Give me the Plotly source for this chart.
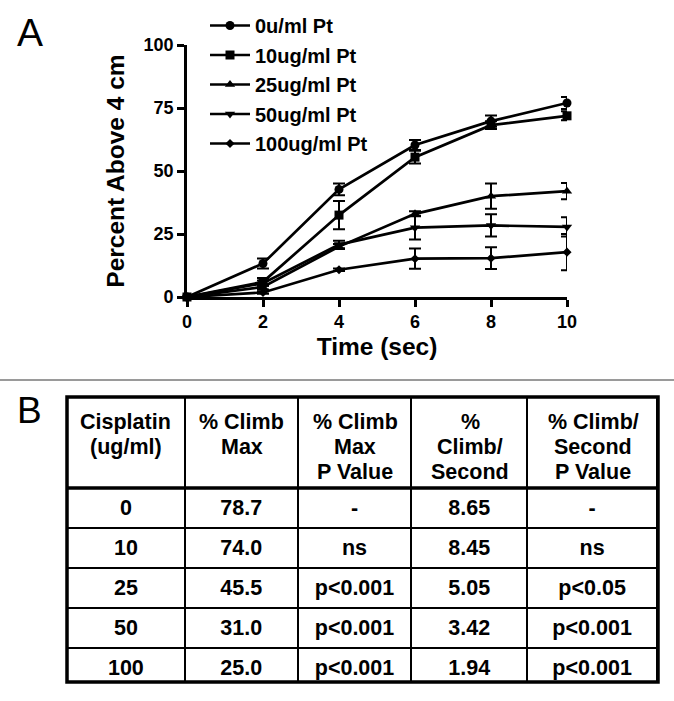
import plotly.graph_objects as go

W, H = 674, 701

# ---- data (panel A) ----
time_s = [0, 2, 4, 6, 8, 10]
series_names = ["0u/ml Pt", "10ug/ml Pt", "25ug/ml Pt", "50ug/ml Pt", "100ug/ml Pt"]
pt0 = [0, 13.3, 42.7, 60.3, 69.8, 77.0]
err0 = [0, 2.0, 2.3, 2.0, 2.2, 2.4]
pt10 = [0, 6.0, 32.5, 55.5, 68.2, 71.9]
err10 = [0, 1.5, 5.6, 2.5, 1.5, 1.8]
pt25 = [0, 4.0, 20.0, 33.0, 40.0, 42.0]
err25 = [0, 1.0, 1.0, 1.0, 5.0, 3.2]
pt50 = [0, 5.5, 20.8, 27.5, 28.4, 27.8]
err50 = [0, 1.0, 1.5, 4.7, 4.4, 3.8]
pt100 = [0, 1.8, 10.8, 15.2, 15.4, 17.8]
err100 = [0, 0.5, 0.5, 4.0, 4.3, 7.2]
x_ticks = [0, 2, 4, 6, 8, 10]
y_ticks = [0, 25, 50, 75, 100]

# ---- data (panel B table) ----
table_header = ["Cisplatin<br>(ug/ml)", "% Climb<br>Max", "% Climb<br>Max<br>P Value",
                "%<br>Climb/<br>Second", "% Climb/<br>Second<br>P Value"]
col_cisplatin = ["0", "10", "25", "50", "100"]
col_climb_max = ["78.7", "74.0", "45.5", "31.0", "25.0"]
col_climb_max_p = ["-", "ns", "p<0.001", "p<0.001", "p<0.001"]
col_climb_sec = ["8.65", "8.45", "5.05", "3.42", "1.94"]
col_climb_sec_p = ["-", "ns", "p<0.05", "p<0.001", "p<0.001"]

FONT = "Liberation Sans, Arial, sans-serif"
TABLE_FS = 21.5


def px(x):
    return x / W


def py(y):
    return 1 - y / H


fig = go.Figure()

ys = [pt0, pt10, pt25, pt50, pt100]
errs = [err0, err10, err25, err50, err100]
symbols = ["circle", "square", "triangle-up", "triangle-down", "diamond"]
sizes = [9, 9, 9, 9, 7]
for name, yv, ev, sym, sz in zip(series_names, ys, errs, symbols, sizes):
    fig.add_trace(go.Scatter(
        x=time_s, y=yv, name=name, mode="lines+markers",
        line=dict(color="black", width=2.7),
        marker=dict(symbol=sym, size=sz, color="black"),
        error_y=dict(type="data", array=ev, visible=True, color="black",
                     thickness=2, width=6),
        cliponaxis=False, legendgroup=name,
        xaxis="x", yaxis="y",
    ))

# table geometry
tx0, tx1, ty0, ty1 = 67, 658, 397, 682
header_h = 91
col_w = [118, 113, 114, 116, 130]

fig.add_trace(go.Table(
    domain=dict(x=[px(tx0), px(tx1)], y=[py(ty1), py(ty0)]),
    columnwidth=col_w,
    header=dict(values=["" for _ in table_header],
                fill_color="white", line=dict(color="black", width=2),
                font=dict(family=FONT, size=TABLE_FS, color="black"),
                align="center", height=header_h),
    cells=dict(values=[["<b>%s</b>" % v for v in col] for col in
                       [col_cisplatin, col_climb_max, col_climb_max_p,
                        col_climb_sec, col_climb_sec_p]],
               fill_color="white", line=dict(color="black", width=2),
               font=dict(family=FONT, size=TABLE_FS, color="black"),
               align="center", height=38.8),
))

annotations = [
    dict(text="A", x=px(30), y=py(33), xref="paper", yref="paper",
         xanchor="center", yanchor="middle",
         showarrow=False, font=dict(family=FONT, size=39, color="black")),
    dict(text="B", x=px(29), y=py(410), xref="paper", yref="paper",
         xanchor="center", yanchor="middle",
         showarrow=False, font=dict(family=FONT, size=37, color="black")),
]

# header text, each line centred in its column
scale = (tx1 - tx0) / sum(col_w)
left = tx0
for w, htxt in zip(col_w, table_header):
    cx = left + w * scale / 2
    for i, line in enumerate(htxt.split("<br>")):
        annotations.append(dict(
            text="<b>%s</b>" % line, x=px(cx), y=py(ty0 + 25 + i * 25),
            xref="paper", yref="paper", showarrow=False,
            xanchor="center", yanchor="middle",
            font=dict(family=FONT, size=TABLE_FS, color="black")))
    left += w * scale

axis_common = dict(
    showline=True, linecolor="black", linewidth=2.6,
    ticks="outside", tickcolor="black", tickwidth=2.6,
    showgrid=False, zeroline=False, automargin=False,
    tickfont=dict(family=FONT, size=18, color="black", weight="bold"),
)

fig.update_layout(
    width=W, height=H,
    margin=dict(l=0, r=0, t=0, b=0, autoexpand=False),
    paper_bgcolor="white", plot_bgcolor="white",
    xaxis=dict(domain=[px(187), px(567)], range=[0, 10], tickvals=x_ticks,
               ticklen=7, anchor="y",
               title=dict(text="<b>Time (sec)</b>", standoff=7,
                          font=dict(family=FONT, size=24.5, color="black")),
               **axis_common),
    yaxis=dict(domain=[py(297), py(45)], range=[0, 100], tickvals=y_ticks,
               ticklen=7, anchor="x",
               title=dict(text="<b>Percent Above 4 cm</b>", standoff=12,
                          font=dict(family=FONT, size=24.5, color="black")),
               **axis_common),
    showlegend=True,
    legend=dict(x=px(205), y=py(6), xanchor="left", yanchor="top",
                bgcolor="rgba(0,0,0,0)", tracegroupgap=0.5,
                font=dict(family=FONT, size=20, color="black", weight="bold"),
                itemwidth=40),
    annotations=annotations,
    shapes=[
        dict(type="line", xref="paper", yref="paper", x0=0, x1=1,
             y0=py(380), y1=py(380), line=dict(color="#9a9a9a", width=2)),
        dict(type="rect", xref="paper", yref="paper", x0=px(tx0), x1=px(tx1),
             y0=py(ty1), y1=py(ty0), line=dict(color="black", width=3.5),
             layer="above"),
        dict(type="line", xref="paper", yref="paper", x0=px(tx0), x1=px(tx1),
             y0=py(ty0 + header_h), y1=py(ty0 + header_h),
             line=dict(color="black", width=3.5), layer="above"),
    ],
)

fig.write_html("out.html",
               config={"displayModeBar": False},
               post_script="document.body.style.margin='0';"
                           "document.body.style.overflow='hidden';")
